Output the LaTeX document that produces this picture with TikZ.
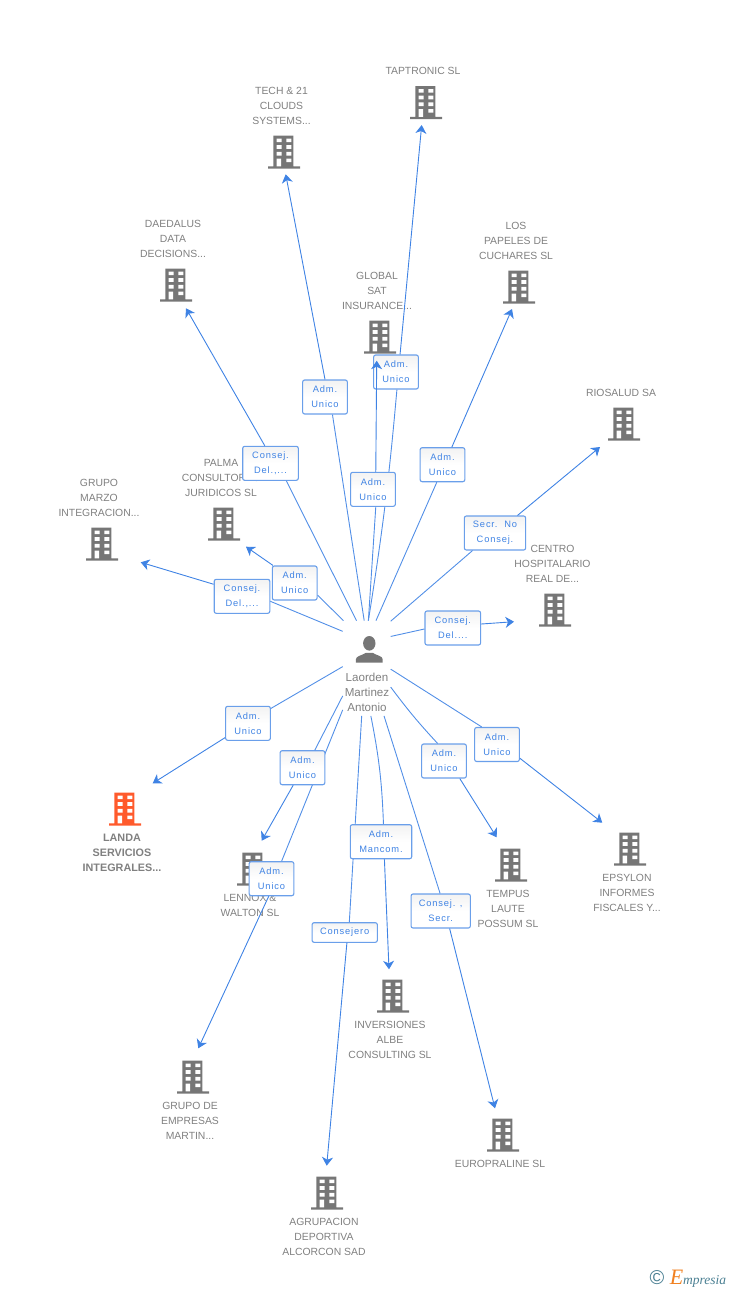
\documentclass[tikz,border=0pt]{standalone}
\usepackage{fontspec}
\setmainfont{Liberation Sans}
\newfontfamily\relfont[LetterSpace=9]{Liberation Sans}
\newfontfamily\logofont{Liberation Serif}
\usepackage{tikz}
\usetikzlibrary{arrows.meta,positioning}
\definecolor{txtgray}{HTML}{808080}
\definecolor{bldgray}{HTML}{767676}
\definecolor{bldorange}{HTML}{FF5A2C}
\definecolor{relblue}{HTML}{3F83E4}
\definecolor{boxblue}{HTML}{6A9FEA}
\definecolor{logoteal}{HTML}{4A7F92}
\definecolor{logoorange}{HTML}{F08020}
\tikzset{
 building/.style={rectangle, inner sep=0pt, outer sep=0pt, minimum width=32pt, minimum height=33pt,
  path picture={
   \fill[#1,shift={(path picture bounding box.center)}] (-10.7,-16.5) rectangle (9.3,15) (-16,14.3) rectangle (16,16.5);
   \fill[white,shift={(path picture bounding box.center)}]
    (-7.3,-13.5) rectangle (-2.5,-9.8) (2.3,-13.5) rectangle (7.3,-9.8)
    (-7.3,-6.9) rectangle (-2.5,-3.2) (2.3,-6.9) rectangle (7.3,-3.2)
    (-7.3,-0.2) rectangle (-2.5,3.5) (2.3,-0.2) rectangle (7.3,3.5)
    (-7.3,6.5) rectangle (-3,14.3) (2.3,6.5) rectangle (7.3,10.2);
  }},
 building/.default=bldgray,
 person/.style={rectangle, inner sep=0pt, outer sep=0pt, minimum width=48pt, minimum height=95.3pt,
  path picture={
   \fill[bldgray,shift={(path picture bounding box.center)}]
    (2.6,-25) ellipse (6.2 and 7.3)
    (-10.8,-5.6) -- (-10.8,-9) .. controls (-10.8,-12.5) and (-4,-13) .. (-0.8,-15.5) -- (6,-15.5)
    .. controls (9.2,-13) and (16,-12.5) .. (16,-9) -- (16,-5.6) -- cycle;
  }}
}
\tikzstyle{company} = [align=center, inner sep=0pt, text=txtgray, font=\fontsize{10.4}{15}\selectfont]
\tikzstyle{relbox} = [rectangle, rounded corners=2pt, minimum width=44.7pt, minimum height=34pt, inner sep=0pt, align=center,
 draw=boxblue, line width=1.1pt, top color=black!5, bottom color=white, middle color=white, text=relblue, font=\relfont\fontsize{9.3}{15}\selectfont]
\tikzstyle{link} = [relblue!90, line width=0.9pt]
\tikzstyle{arrow} = [relblue, line width=0.9pt, -{Stealth[length=8.5pt,width=11pt,inset=2.5pt]}]

\begin{document}
\begin{tikzpicture}[x=1pt,y=-1pt]
\useasboundingbox (0,0) rectangle (728,1290);

% companies
\node (Tap) [building] at (426,102.5) {};
\node (TapL) [company] at (423,71) {TAPTRONIC SL};
\node (Tech) [building] at (284,152) {};
\node (TechL) [company] at (281.5,106) {TECH \& 21\\CLOUDS\\SYSTEMS...};
\node (Daed) [building] at (176,285) {};
\node (DaedL) [company] at (173,239) {DAEDALUS\\DATA\\DECISIONS...};
\node (Glob) [building] at (380,337) {};
\node (GlobL) [company] at (377,291) {GLOBAL\\SAT\\INSURANCE...};
\node (Pap) [building] at (519,287) {};
\node (PapL) [company] at (516,241) {LOS\\PAPELES DE\\CUCHARES SL};
\node (Rio) [building] at (624,424) {};
\node (RioL) [company] at (621,393) {RIOSALUD SA};
\node (Pal) [building] at (224,524) {};
\node (PalL) [company] at (221,478) {PALMA\\CONSULTORES\\JURIDICOS SL};
\node (Mar) [building] at (102,544) {};
\node (MarL) [company] at (99,498) {GRUPO\\MARZO\\INTEGRACION...};
\node (Cen) [building] at (555,610) {};
\node (CenL) [company] at (552.5,564) {CENTRO\\HOSPITALARIO\\REAL DE...};
\node (Lan) [building=bldorange] at (125,809) {};
\node (LanL) [company,font=\bfseries\fontsize{10.8}{15}\selectfont] at (122,853) {LANDA\\SERVICIOS\\INTEGRALES...};
\node (Len) [building] at (253,869) {};
\node (LenL) [company] at (250,905.5) {LENNOX \&\\WALTON SL};
\node (Tem) [building] at (511,865) {};
\node (TemL) [company] at (508,909) {TEMPUS\\LAUTE\\POSSUM SL};
\node (Eps) [building] at (630,849) {};
\node (EpsL) [company] at (627,893) {EPSYLON\\INFORMES\\FISCALES Y...};
\node (Inv) [building] at (393,996) {};
\node (InvL) [company] at (390,1040) {INVERSIONES\\ALBE\\CONSULTING SL};
\node (Gru) [building] at (193,1077) {};
\node (GruL) [company] at (190,1121) {GRUPO DE\\EMPRESAS\\MARTIN...};
\node (Agr) [building] at (327,1193) {};
\node (AgrL) [company] at (324,1237) {AGRUPACION\\DEPORTIVA\\ALCORCON SAD};
\node (Eur) [building] at (503,1135) {};
\node (EurL) [company] at (500,1164) {EUROPRALINE SL};

\node (Lao) [person] at (366.7,668.3) {};
\node (LaoL) [company,font=\fontsize{11.6}{15}\selectfont] at (367,692) {Laorden\\Martinez\\Antonio};

% free ends of the arrows
\coordinate (TapT) at (421.7,125);
\coordinate (TechT) at (285.7,174.3);
\coordinate (DaedT) at (186,308.3);
\coordinate (GlobT) at (376.7,360.7);
\coordinate (PapT) at (512,309);
\coordinate (RioT) at (600,447);
\coordinate (PalT) at (246,546.7);
\coordinate (MarT) at (140.7,562.3);
\coordinate (CenT) at (514,621.7);
\coordinate (LanT) at (152.7,783.3);
\coordinate (LenT) at (261.7,840.7);
\coordinate (TemT) at (496.7,837.3);
\coordinate (EpsT) at (602.3,822.7);
\coordinate (InvT) at (389,969.3);
\coordinate (GruT) at (198.3,1048.3);
\coordinate (AgrT) at (326.7,1165.7);
\coordinate (EurT) at (495,1108.3);

% relations, each box before its two lines
\node (TechB) [relbox] at (325,397) {Adm.\\Unico};
\draw [link] (Lao.93.8) -- (TechB.-67.6);
\draw [arrow] (TechB.90) -- (TechT);

\node (TapB) [relbox] at (396,372) {Adm.\\Unico};
\draw [link] (Lao.88.1) to[bend right=2] (TapB.-87.6);
\draw [arrow] (TapB.77) -- (TapT);

\node (GlobB) [relbox] at (373,489.3) {Adm.\\Unico};
\draw [link] (Lao.88.8) -- (GlobB.-81);
\draw [arrow] (GlobB.81) -- (GlobT);

\node (PapB) [relbox] at (442.5,464.7) {Adm.\\Unico};
\draw [link] (Lao.79.8) -- (PapB.252);
\draw [arrow] (PapB.62) -- (PapT);

\node (DaedB) [relbox,minimum width=55.6pt] at (270.5,463.3) {Consej.\\Del.,...};
\draw [link] (Lao.102.7) -- (DaedB.-48.3);
\draw [arrow] (DaedB.108) -- (DaedT);

\node (PalB) [relbox] at (294.7,583) {Adm.\\Unico};
\draw [link] (Lao.116.8) -- (PalB.-28);
\draw [arrow] (PalB.141.5) -- (PalT);

\node (MarB) [relbox,minimum width=55.6pt] at (242,596.3) {Consej.\\Del.,...};
\draw [link] (Lao.123.7) -- (MarB.-10.1);
\draw [arrow] (MarB.157.8) -- (MarT);

\node (RioB) [relbox,minimum width=61.3pt] at (495,533) {Secr.\ \ No\\Consej.};
\draw [link] (Lao.63.2) -- (RioB.218.4);
\draw [arrow] (RioB.38.6) -- (RioT);

\node (CenB) [relbox,minimum width=55.6pt] at (452.8,628) {Consej.\\Del....};
\draw [link] (Lao.53.1) -- (CenB.182);
\draw [arrow] (CenB.8.2) -- (CenT);

\node (LanB) [relbox] at (248,723.3) {Adm.\\Unico};
\draw [link] (Lao.176.2) -- (LanB.33.5);
\draw [arrow] (LanB.212.9) -- (LanT);

\node (GruB) [relbox] at (271.5,878.7) {Adm.\\Unico};
\draw [link] (Lao.240.1) -- (GruB.60.8);
\draw [arrow] (GruB.261.6) -- (GruT);

\node (LenB) [relbox] at (302.5,767.7) {Adm.\\Unico};
\draw [link] (Lao.229.1) -- (LenB.55);
\draw [arrow] (LenB.242) -- (LenT);

\node (AgrB) [relbox,minimum width=65.3pt,minimum height=19.6pt] at (344.7,932.5) {Consejero};
\draw [link] (Lao.264) -- (AgrB.66.3);
\draw [arrow] (AgrB.-78.5) -- (AgrT);

\node (InvB) [relbox,minimum width=61.4pt] at (381,841.7) {Adm.\\Mancom.};
\draw [link] (Lao.275.2) to[bend left=4.5] (InvB.82.3);
\draw [arrow] (InvB.-79.2) -- (InvT);

\node (EurB) [relbox,minimum width=59.3pt] at (440.7,911) {Consej. ,\\Secr.};
\draw [link] (Lao.290.3) -- (EurB.92.3);
\draw [arrow] (EurB.-63.6) -- (EurT);

\node (TemB) [relbox] at (444,761) {Adm.\\Unico};
\draw [link] (Lao.322.5) to[bend right=3] (TemB.110);
\draw [arrow] (TemB.-48.5) -- (TemT);

\node (EpsB) [relbox] at (497,744.5) {Adm.\\Unico};
\draw [link] (Lao.358.3) -- (EpsB.131.7);
\draw [arrow] (EpsB.-31) -- (EpsT);

% logo
\node (Copy) [text=logoteal,inner sep=0pt,font=\fontsize{20}{20}\selectfont] at (657,1278) {\textcopyright};
\node (Emp) [inner sep=0pt,text=logoteal,font=\logofont\itshape\fontsize{13.5}{13.5}\selectfont] at (698,1279) {{\color{logoorange}\fontsize{22}{22}\selectfont E}mpresia};
\end{tikzpicture}
\end{document}
